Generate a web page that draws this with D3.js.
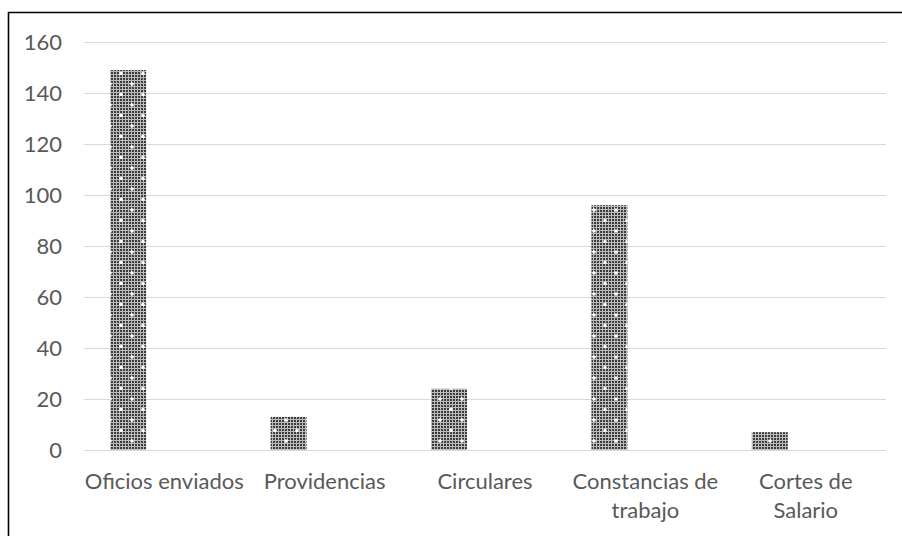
<!DOCTYPE html>
<html>
<head>
<meta charset="utf-8">
<script src="https://cdn.jsdelivr.net/npm/d3@7"></script>
<style>
  html, body { margin: 0; padding: 0; background: #fff; }
  svg { display: block; }
  text { font-family: Lato, "Liberation Sans", sans-serif; fill: #595959; }
</style>
</head>
<body>
<svg id="chart" width="902" height="536"></svg>
<script>
const categories = [["Oficios enviados"], ["Providencias"], ["Circulares"], ["Constancias de", "trabajo"], ["Cortes de", "Salario"]];
const values = [149, 13, 24, 96, 7];
const seriesSlots = [0, 1, 2]; // clustered slots; only the first carries data
const yTicks = [0, 20, 40, 60, 80, 100, 120, 140, 160];

const svg = d3.select("#chart");
const W = 902, H = 536;
const plot = { left: 84, right: 886, top: 42, bottom: 450 };

// patterns
const defs = svg.append("defs");
const chk = defs.append("pattern").attr("id", "chk").attr("patternUnits", "userSpaceOnUse")
  .attr("width", 3).attr("height", 3);
chk.append("rect").attr("width", 3).attr("height", 3).attr("fill", "#bcbcbc");
chk.append("rect").attr("width", 2).attr("height", 2).attr("fill", "#3c3c3c");
const dots = defs.append("pattern").attr("id", "dots").attr("patternUnits", "userSpaceOnUse")
  .attr("width", 22).attr("height", 21).attr("x", 0).attr("y", 0);
[[0,0],[22,0],[0,21],[22,21],[11,10.5]].forEach(([cx,cy]) => {
  dots.append("circle").attr("cx", cx).attr("cy", cy).attr("r", 1.8).attr("fill", "#fff");
});

// frame
svg.append("path").attr("d", `M8.5,${H} V12.5 H${W}`).attr("fill", "none")
  .attr("stroke", "#000").attr("stroke-width", 1.6);

const x = d3.scaleBand().domain(categories.map(c => c.join(" "))).range([plot.left, plot.right]).padding(0);
const gap = 26.2;
const xs = d3.scaleBand().domain(seriesSlots).range([gap, x.bandwidth() - gap]).padding(0);
const y = d3.scaleLinear().domain([0, 160]).range([plot.bottom, plot.top]);

// gridlines
const yAxis = d3.axisLeft(y).tickValues(yTicks).tickSize(-(plot.right - plot.left)).tickPadding(22).tickFormat(d3.format("d"));
const gy = svg.append("g").attr("transform", `translate(${plot.left},0)`).call(yAxis);
gy.select(".domain").remove();
gy.selectAll(".tick line").attr("stroke", "#d9d9d9").attr("stroke-width", 1);
gy.selectAll(".tick text").attr("font-size", 22).attr("fill", "#595959")
  .style("font-family", "Lato, 'Liberation Sans', sans-serif");

// bars
const data = categories.map((c, i) => ({ key: c.join(" "), v: values[i] }));
const bars = svg.append("g");
bars.selectAll("rect.base").data(data).join("rect").attr("class", "base")
  .attr("x", d => x(d.key) + xs(0)).attr("width", xs.bandwidth())
  .attr("y", d => y(d.v)).attr("height", d => y(0) - y(d.v)).attr("fill", "url(#chk)");
bars.selectAll("rect.dot").data(data).join("rect").attr("class", "dot")
  .attr("x", d => x(d.key) + xs(0)).attr("width", xs.bandwidth())
  .attr("y", d => y(d.v)).attr("height", d => y(0) - y(d.v)).attr("fill", "url(#dots)");

// x axis line
svg.append("line").attr("x1", plot.left).attr("x2", plot.right).attr("y1", y(0) + 0.5).attr("y2", y(0) + 0.5)
  .attr("stroke", "#d9d9d9").attr("stroke-width", 1);

// category labels
const gx = svg.append("g");
categories.forEach(lines => {
  const key = lines.join(" ");
  const t = gx.append("text").attr("text-anchor", "middle").attr("font-size", 22)
    .attr("x", x(key) + x.bandwidth() / 2).attr("y", 489);
  lines.forEach((ln, j) => t.append("tspan").attr("x", x(key) + x.bandwidth() / 2).attr("dy", j === 0 ? 0 : 29).text(ln));
});
</script>
</body>
</html>
